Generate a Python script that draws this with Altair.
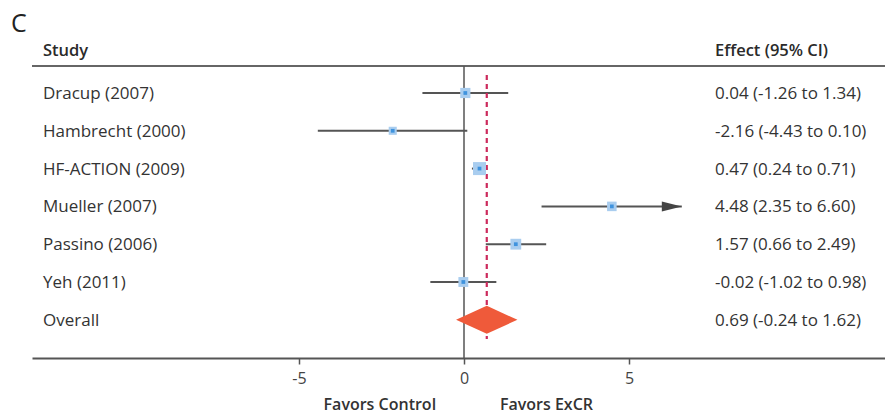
import altair as alt
import pandas as pd

# ---- data ----
studies = ["Dracup (2007)", "Hambrecht (2000)", "HF-ACTION (2009)",
           "Mueller (2007)", "Passino (2006)", "Yeh (2011)"]
effect = [0.04, -2.16, 0.47, 4.48, 1.57, -0.02]
lower = [-1.26, -4.43, 0.24, 2.35, 0.66, -1.02]
upper = [1.34, 0.10, 0.71, 6.60, 2.49, 0.98]
weight = [16, 10, 26, 14, 18, 15]
overall_label = "Overall"
overall_effect = 0.69
overall_lower = -0.24
overall_upper = 1.62
x_ticks = [-5, 0, 5]
arrow_limit = 6.0

FONT = "Open Sans"
TXT = "#333333"
W, H = 853, 292

def fmt(v):
    return f"{v:.2f}"

df = pd.DataFrame({
    "row": list(range(len(studies))),
    "study": studies,
    "effect": effect,
    "lo": lower,
    "hi": upper,
    "w": weight,
})
df["label"] = [f"{fmt(e)} ({fmt(l)} to {fmt(h)})" for e, l, h in zip(effect, lower, upper)]

orow = len(studies)
labels_df = pd.DataFrame({
    "row": list(range(len(studies) + 1)),
    "study": studies + [overall_label],
    "label": list(df["label"]) + [f"{fmt(overall_effect)} ({fmt(overall_lower)} to {fmt(overall_upper)})"],
})

half = 0.37
diamond_df = pd.DataFrame({
    "x": [overall_lower, overall_effect, overall_upper],
    "y": [orow, orow - half, orow],
    "y2": [orow, orow + half, orow],
})

xscale = alt.Scale(domain=[-432 / 33, (W - 432) / 33], nice=False, zero=False)
yscale = alt.Scale(domain=[-0.714, 7.011], reverse=True, nice=False, zero=False)
xaxis = alt.Axis(values=x_ticks, title=None, grid=False, domainColor="#555",
                 domainWidth=2, tickColor="#555", tickWidth=1.5, tickSize=6,
                 labelFontSize=16, labelColor="#444", labelFont=FONT,
                 labelPadding=6, labelExpr="replace(datum.label, '\u2212', '-')")

def X(field):
    return alt.X(field, scale=xscale, axis=xaxis)

def Y(field):
    return alt.Y(field, scale=yscale, axis=None)

one = pd.DataFrame({"x": [0.0]})

top_rule = alt.Chart(one).mark_rule(color="#666", strokeWidth=2).encode(
    x=alt.value(0), x2=alt.value(W), y=alt.value(0))

zero_line = alt.Chart(one).mark_rule(color="#555", strokeWidth=1.5).encode(
    x=X("x:Q"), y=alt.value(0), y2=alt.value(H))

dash_line = alt.Chart(pd.DataFrame({"x": [overall_effect]})).mark_rule(
    color="#cc2a5c", strokeWidth=2.2, strokeDash=[5, 4]).encode(
    x=X("x:Q"), y=alt.value(9), y2=alt.value(273))

ci = alt.Chart(df).mark_rule(color="#555", strokeWidth=2).encode(
    x=X("lo:Q"), x2="hi:Q", y=Y("row:Q"))

arrow = alt.Chart(df).transform_filter(f"datum.hi > {arrow_limit}").mark_point(
    shape="M 0 0 L -2 -0.5 L -2 0.5 Z", filled=True, color="#444", opacity=1, size=400).encode(
    x=X("hi:Q"), y=Y("row:Q"))

squares = alt.Chart(df).mark_square(color="#a9cdef", opacity=1).encode(
    x=X("effect:Q"), y=Y("row:Q"),
    size=alt.Size("w:Q", scale=alt.Scale(domain=[0, 26], range=[0, 169]), legend=None),
)

centers = alt.Chart(df).mark_square(color="#3f93de", opacity=1, size=14).encode(
    x=X("effect:Q"), y=Y("row:Q"))

diamond = alt.Chart(diamond_df).mark_area(color="#ef5a3a", orient="vertical", opacity=1).encode(
    x=X("x:Q"), y=Y("y:Q"), y2="y2:Q")

study_text = alt.Chart(labels_df).mark_text(
    align="left", baseline="middle", font=FONT, fontSize=17, color=TXT, dy=1).encode(
    x=alt.value(11), y=Y("row:Q"), text="study:N")

effect_text = alt.Chart(labels_df).mark_text(
    align="left", baseline="middle", font=FONT, fontSize=17, color=TXT, dy=1).encode(
    x=alt.value(683), y=Y("row:Q"), text="label:N")

head_df = pd.DataFrame({"t": ["Study", "Effect (95% CI)"], "px": [11, 683]})
headers = alt.Chart(head_df).mark_text(
    align="left", baseline="alphabetic", font=FONT, fontSize=16.5, color="#2a2a2a", fontWeight=600).encode(
    x=alt.X("px:Q", scale=None), y=alt.value(-10), text="t:N")

panel = alt.Chart(pd.DataFrame({"t": ["C"]})).mark_text(
    align="left", baseline="middle", font=FONT, fontSize=25, color="#222").encode(
    x=alt.value(-21), y=alt.value(-42), text="t:N")

favors_df = pd.DataFrame({"t": ["Favors Control", "Favors ExCR"], "x": [-2.55, 2.5]})
favors = alt.Chart(favors_df).mark_text(
    align="center", baseline="alphabetic", font=FONT, fontSize=16, color="#333", fontWeight=600).encode(
    x=X("x:Q"), y=alt.value(344), text="t:N")

chart = alt.layer(
    top_rule, zero_line, ci, arrow, dash_line, squares, centers, diamond,
    study_text, effect_text, headers, panel, favors,
).properties(
    width=W, height=H,
    autosize=alt.AutoSizeParams(type="none"),
    padding={"left": 24, "top": 58, "right": 0, "bottom": 53},
).configure_view(stroke=None)

chart.save("out.html", embed_options={"renderer": "svg", "actions": False})
